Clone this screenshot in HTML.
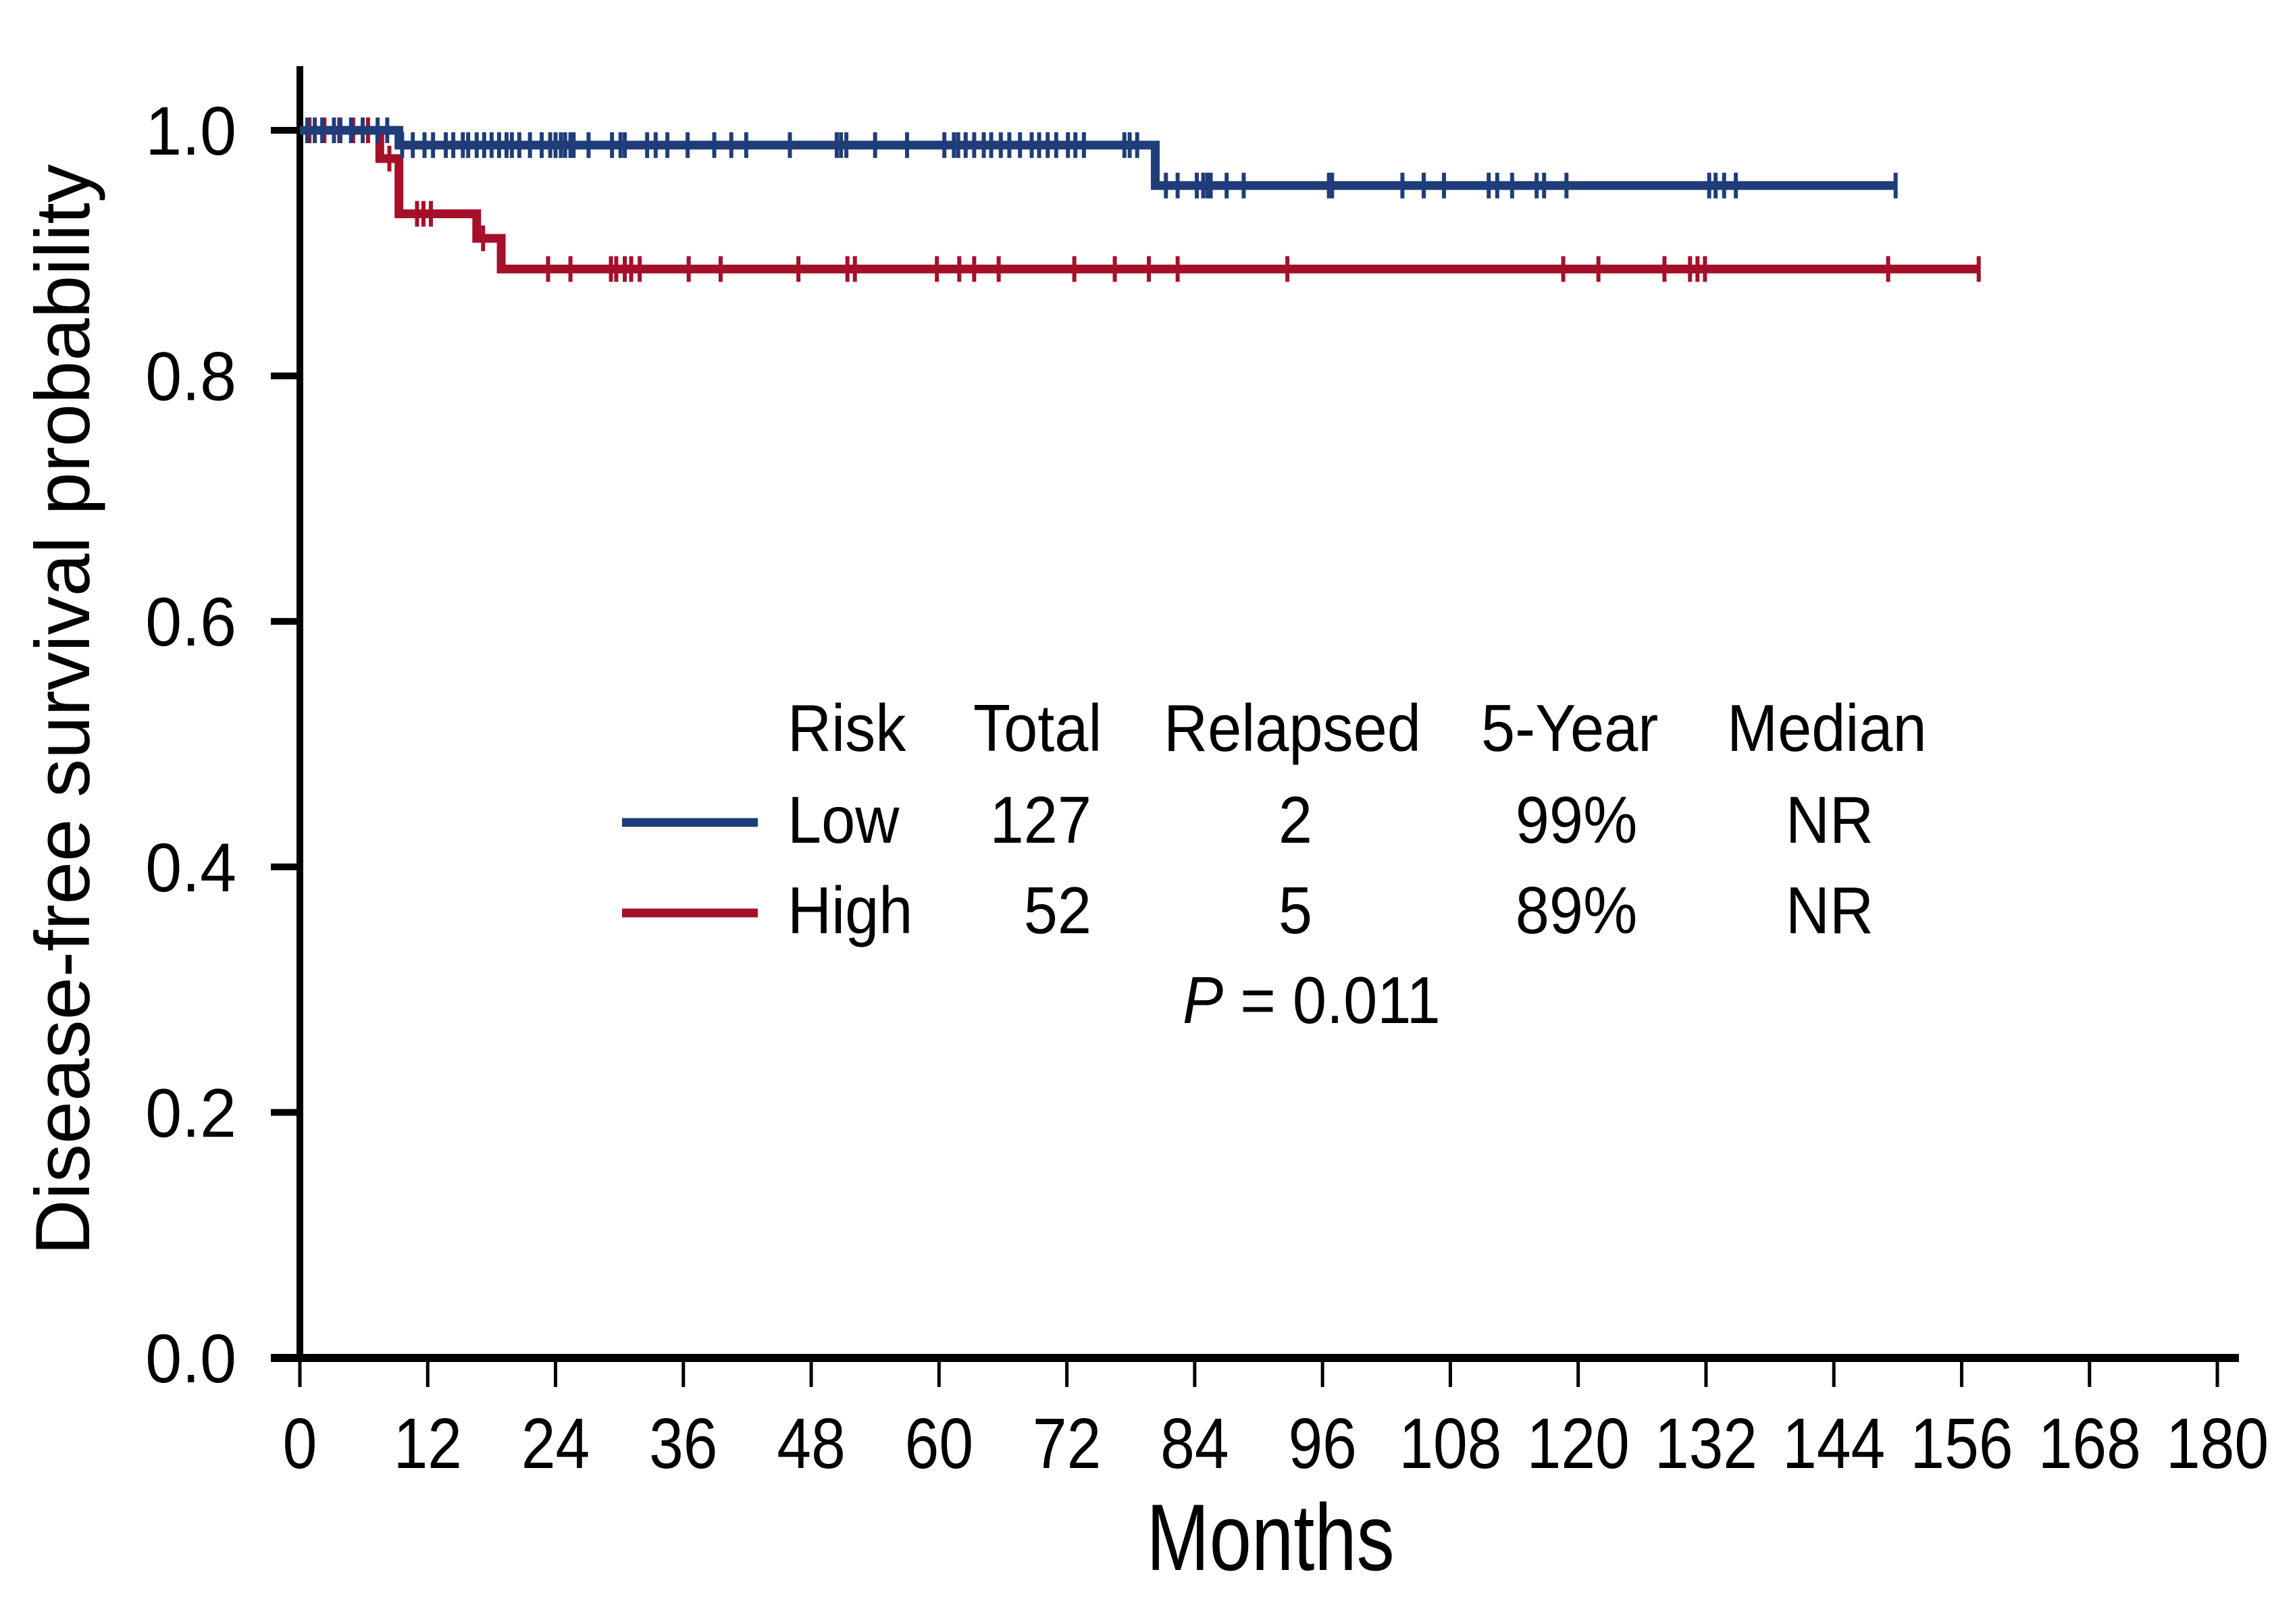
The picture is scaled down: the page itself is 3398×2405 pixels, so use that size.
<!DOCTYPE html>
<html><head><meta charset="utf-8"><style>
html,body{margin:0;padding:0;background:#fff;}
svg{display:block;font-family:"Liberation Sans",sans-serif;}
</style></head><body>
<svg id="chart" width="3398" height="2405" viewBox="0 0 3398 2405" xmlns="http://www.w3.org/2000/svg">
<g id="axes"></g>
<g id="curves"></g>
<g id="legend"></g>
</svg>
<script>
const xTicks=[0,12,24,36,48,60,72,84,96,108,120,132,144,156,168,180];
const yTicks=[0,0.2,0.4,0.6,0.8,1.0];
const yTickLabels=["0.0","0.2","0.4","0.6","0.8","1.0"];
const lowStepTimes=[0,9.3,80.3];
const lowStepSurv=[1.0,0.988,0.955];
const lowEnd=149.8;
const lowCensor=[0.7,1.4,2.1,3.2,3.8,4.8,5.9,7.3,8.2,9.6,10.6,11.7,12.5,13.7,14.4,15.3,15.8,16.6,17.3,18.0,18.7,19.4,19.9,20.6,21.6,22.7,23.5,24.0,24.5,24.9,25.4,25.7,27.1,29.3,30.1,30.5,32.6,33.4,34.5,36.4,38.9,40.5,41.9,46.0,50.4,50.8,51.3,54.0,57.0,60.5,61.4,61.8,62.5,63.3,64.2,64.9,65.8,66.6,67.6,68.7,69.4,70.2,71.0,72.1,72.8,73.6,77.4,77.9,78.6,81.3,82.4,84.2,84.8,85.2,85.5,87.0,88.6,96.6,96.9,103.5,105.5,107.4,111.6,112.4,113.8,116.1,116.8,118.9,132.3,132.9,133.7,134.8,149.8];
const highStepTimes=[0,7.5,9.3,16.6,18.9];
const highStepSurv=[1.0,0.977,0.932,0.912,0.887];
const highEnd=157.6;
const highCensor=[0.9,2.3,3.7,5.0,6.4,8.4,11.0,11.6,12.3,17.2,23.3,25.4,29.2,29.7,30.5,31.1,31.9,36.5,39.5,46.8,51.4,52.1,59.8,61.9,63.3,65.6,72.7,76.5,79.7,82.4,92.7,118.6,121.9,128.1,130.5,131.2,131.9,149.1,157.6];

const NS="http://www.w3.org/2000/svg";
const X0=444,X1=3283,Y0=2011,Y1=193;
const sx=m=>X0+(m/180)*(X1-X0);
const sy=p=>Y0-p*(Y0-Y1);
function mk(tag,attrs,parent,text){const e=document.createElementNS(NS,tag);for(const k in attrs)e.setAttribute(k,attrs[k]);if(text!==undefined)e.textContent=text;parent.appendChild(e);return e;}
function txt(parent,x,y,s,size,anchor,scale){return mk('text',{x:0,y:0,'font-size':size,'text-anchor':anchor,fill:'#000',transform:'translate('+x+','+y+') scale('+scale+',1)'},parent,s);}
const axes=document.getElementById('axes');
let e;
e=mk('line',{x1:X0,y1:98,x2:X0,y2:Y0+6,stroke:'#000','stroke-width':10},axes);


e=mk('line',{x1:401,y1:Y0,x2:3315,y2:Y0,stroke:'#000','stroke-width':12},axes);


xTicks.forEach(t=>{
  const x=sx(t);
  e=mk('line',{x1:x,y1:Y0,x2:x,y2:2054,stroke:'#000','stroke-width':5},axes);
  
  
  e=txt(axes,x,2174,String(t),106,'middle',0.86);
  
  
});
yTicks.forEach((t,i)=>{
  const y=sy(t);
  e=mk('line',{x1:401,y1:y,x2:X0,y2:y,stroke:'#000','stroke-width':10},axes);
  
  
  e=txt(axes,350,y+36,yTickLabels[i],102,'end',0.95);
  
  
});
e=txt(axes,1881,2325,'Months',140,'middle',0.8);


e=mk('text',{x:0,y:0,'font-size':114,'text-anchor':'middle',fill:'#000',transform:'translate(132,1051) rotate(-90)'},axes,'Disease-free survival probability');



const curves=document.getElementById('curves');
function survAt(times,surv,t){let s=surv[0];for(let i=0;i<times.length;i++){if(t>=times[i])s=surv[i];}return s;}
function drawCurve(times,surv,end,cens,color,name){
  let d='M'+sx(times[0])+','+sy(surv[0]);
  for(let i=1;i<times.length;i++){d+=' H'+sx(times[i])+' V'+sy(surv[i]);}
  d+=' H'+sx(end);
  e=mk('path',{d:d,fill:'none',stroke:color,'stroke-width':13},curves);
  
  
  cens.forEach(c=>{
    const x=sx(c),y=sy(survAt(times,surv,c));
    e=mk('line',{x1:x,y1:y-19,x2:x,y2:y+19,stroke:color,'stroke-width':6},curves);
    
    
  });
}
drawCurve(highStepTimes,highStepSurv,highEnd,highCensor,'#a50f2a','high-risk');
drawCurve(lowStepTimes,lowStepSurv,lowEnd,lowCensor,'#1f3d78','low-risk');

const lg=document.getElementById('legend');
function t(x,y,s,anchor,name){e=txt(lg,x,y,s,98,anchor,0.92);return e;}
t(1166,1112,'Risk','start','legend-header-risk');
t(1441,1112,'Total','start','legend-header-total');
t(1723,1112,'Relapsed','start','legend-header-relapsed');
t(2193,1112,'5-Year','start','legend-header-5year');
t(2557,1112,'Median','start','legend-header-median');
e=mk('line',{x1:921,y1:1218,x2:1122,y2:1218,stroke:'#1f3d78','stroke-width':13},lg);


e=mk('line',{x1:921,y1:1352,x2:1122,y2:1352,stroke:'#a50f2a','stroke-width':13},lg);


t(1166,1248,'Low','start','legend-low-label');
t(1616,1248,'127','end','legend-low-total');
t(1918,1248,'2','middle','legend-low-relapsed');
t(2334,1248,'99%','middle','legend-low-5year');
t(2709,1248,'NR','middle','legend-low-median');
t(1166,1382,'High','start','legend-high-label');
t(1616,1382,'52','end','legend-high-total');
t(1918,1382,'5','middle','legend-high-relapsed');
t(2334,1382,'89%','middle','legend-high-5year');
t(2709,1382,'NR','middle','legend-high-median');
e=mk('text',{x:0,y:0,'font-size':98,fill:'#000',transform:'translate(1751,1515) scale(0.92,1)'},lg);


mk('tspan',{'font-style':'italic'},e,'P');
mk('tspan',{},e,' = 0.011');
</script>
</body></html>
